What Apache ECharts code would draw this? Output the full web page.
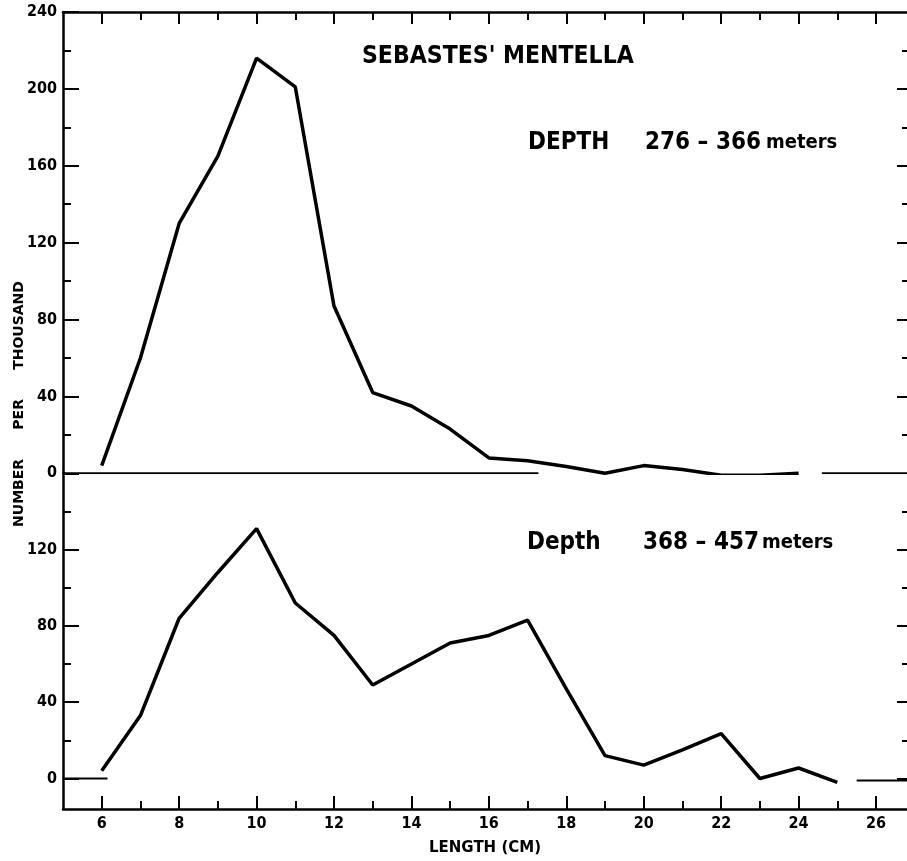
<!DOCTYPE html>
<html>
<head>
<meta charset="utf-8">
<script src="https://cdn.jsdelivr.net/npm/echarts@6/dist/echarts.min.js"></script>
<style>
html,body{margin:0;padding:0;background:#fff;}
#c{width:907px;height:861px;}
</style>
</head>
<body>
<div id="c"></div>
<script>
// ---- data ----
const topLengths = [6,7,8,9,10,11,12,13,14,15,16,17,18,19,20,21,22,23,24];
const topValues  = [4,60,130,165,216,201,87,42,35,23,8,6.5,3.5,0,4,2,-1,-1,0];
const bottomLengths = [6,7,8,9,10,11,12,13,14,15,16,17,18,19,20,21,22,23,24,25];
const bottomValues  = [4,33,84,108,131,92,75,49,60,71,75,83,47,12,7,15,23.5,0,5.5,-2];
const topBaselineA = [[5,0],[17.28,0]];
const topBaselineB = [[24.6,0],[26.8,0]];
const bottomBaselineA = [[5,0],[6.15,0]];
const bottomBaselineB = [[25.5,-1],[26.8,-1]];
const xMajorTicks = [6,8,10,12,14,16,18,20,22,24,26];
const xMinorTicks = [7,9,11,13,15,17,19,21,23,25];
const topYLabels = [0,40,80,120,160,200,240];
const bottomYMajor = [0,40,80,120];
const bottomYMinor = [20,60,100,140];
const titleText = "SEBASTES' MENTELLA";
const depthTopLabel = "DEPTH";
const depthTopNums = "276 \u2013 366";
const depthBottomLabel = "Depth";
const depthBottomNums = "368 \u2013 457";
const unitText = "meters";
const yTitle = "NUMBER      PER      THOUSAND";
const xTitle = "LENGTH (CM)";

const X_MIN = 5, X_MAX = 26.8;
const BLACK = '#000';
const COND = '"DejaVu Sans Condensed","Liberation Sans Narrow","DejaVu Sans",sans-serif';
const labelFont = {color: BLACK, fontWeight: 'bold', fontSize: 16, fontFamily: COND};

function xAxisDef(grid, pos, ticks, len, showLine, showLabels) {
  return {
    type: 'value', gridIndex: grid, position: pos, min: X_MIN, max: X_MAX,
    axisLine: {show: showLine, onZero: false, lineStyle: {color: BLACK, width: 2.5}},
    axisTick: {show: true, inside: true, length: len, customValues: ticks, lineStyle: {color: BLACK, width: 2}},
    axisLabel: showLabels ? Object.assign({show: true, margin: 7, customValues: ticks}, labelFont) : {show: false},
    splitLine: {show: false}
  };
}
function yAxisDef(grid, pos, min, max, ticks, len, showLine, labels) {
  return {
    type: 'value', gridIndex: grid, position: pos, min: min, max: max,
    axisLine: {show: showLine, onZero: false, lineStyle: {color: BLACK, width: 2.5}},
    axisTick: {show: true, inside: true, length: len, customValues: ticks, lineStyle: {color: BLACK, width: 2}},
    axisLabel: labels ? Object.assign({show: true, margin: 6, customValues: labels}, labelFont) : {show: false},
    splitLine: {show: false}
  };
}
function depthText(x, y, lead, nums, numX, gap) {
  return [
    {type: 'text', x: x, y: y, style: {text: lead, fill: BLACK, textVerticalAlign: 'middle',
      font: 'bold 24px ' + COND}},
    {type: 'text', x: numX, y: y, style: {text: '{n|' + nums + '}{u|' + unitText + '}', fill: BLACK, textVerticalAlign: 'middle',
      rich: {n: {font: 'bold 24px ' + COND, fill: BLACK}, u: {font: 'bold 20px ' + COND, fill: BLACK, padding: [0, 0, 0, gap]}}}}
  ];
}

const chart = echarts.init(document.getElementById('c'), null, {renderer: 'canvas'});
const option = {
  animation: false,
  backgroundColor: '#fff',
  grid: [
    {left: 63, right: 0, top: 12, height: 461.3},
    {left: 63, right: 0, top: 473.3, height: 335.7}
  ],
  xAxis: [
    xAxisDef(0, 'top', xMajorTicks, 12, true, false),
    xAxisDef(0, 'top', xMinorTicks, 8, false, false),
    xAxisDef(1, 'bottom', xMajorTicks, 13, true, true),
    xAxisDef(1, 'bottom', xMinorTicks, 8, false, false)
  ],
  yAxis: [
    yAxisDef(0, 'left', 0, 240, topYLabels, 16, true, topYLabels),
    yAxisDef(0, 'left', 0, 240, [20,60,100,140,180,220], 8, false, null),
    yAxisDef(0, 'right', 0, 240, [40,80,120,160,200], 10, false, null),
    yAxisDef(0, 'right', 0, 240, [20,60,100,140,180,220], 5, false, null),
    yAxisDef(1, 'left', -16, 160, bottomYMajor, 16, true, bottomYMajor),
    yAxisDef(1, 'left', -16, 160, bottomYMinor, 8, false, null),
    yAxisDef(1, 'right', -16, 160, bottomYMajor, 10, false, null),
    yAxisDef(1, 'right', -16, 160, bottomYMinor, 5, false, null)
  ],
  series: [
    {type: 'line', xAxisIndex: 0, yAxisIndex: 0, symbol: 'none',
     data: topLengths.map((x, i) => [x, topValues[i]]),
     lineStyle: {color: BLACK, width: 3.5}},
    {type: 'line', xAxisIndex: 2, yAxisIndex: 4, symbol: 'none',
     data: bottomLengths.map((x, i) => [x, bottomValues[i]]),
     lineStyle: {color: BLACK, width: 3.5}},
    {type: 'line', xAxisIndex: 0, yAxisIndex: 0, symbol: 'none', data: topBaselineA, lineStyle: {color: BLACK, width: 2}},
    {type: 'line', xAxisIndex: 0, yAxisIndex: 0, symbol: 'none', data: topBaselineB, lineStyle: {color: BLACK, width: 2}},
    {type: 'line', xAxisIndex: 2, yAxisIndex: 4, symbol: 'none', data: bottomBaselineA, lineStyle: {color: BLACK, width: 2}},
    {type: 'line', xAxisIndex: 2, yAxisIndex: 4, symbol: 'none', data: bottomBaselineB, lineStyle: {color: BLACK, width: 2}}
  ],
  graphic: [
    {type: 'text', x: 362, y: 57, style: {text: titleText, fill: BLACK, textVerticalAlign: 'middle',
      font: 'bold 24.5px ' + COND}}
  ].concat(depthText(528, 143, depthTopLabel, depthTopNums, 645, 5))
   .concat(depthText(527, 543, depthBottomLabel, depthBottomNums, 643, 3))
   .concat([
    {type: 'text', x: 19, y: 404, rotation: Math.PI / 2, style: {text: yTitle, fill: BLACK, textAlign: 'center', textVerticalAlign: 'middle',
      font: 'bold 14px "DejaVu Sans","Liberation Sans",sans-serif'}},
    {type: 'text', x: 485, y: 848, style: {text: xTitle, fill: BLACK, textAlign: 'center', textVerticalAlign: 'middle',
      font: 'bold 15px "DejaVu Sans","Liberation Sans",sans-serif'}}
  ])
};
chart.setOption(option);
</script>
</body>
</html>
